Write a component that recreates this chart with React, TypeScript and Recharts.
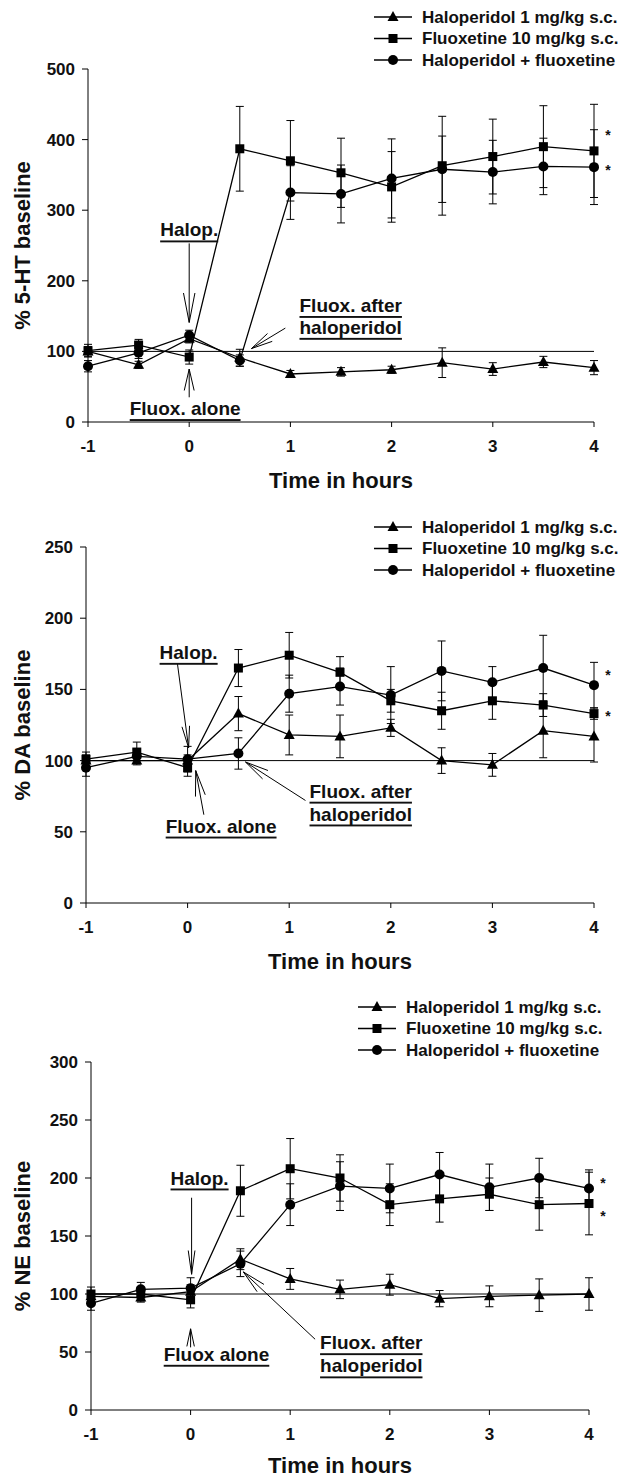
import React from 'react'
import {
  ErrorBar,
  Legend,
  Line,
  LineChart,
  ReferenceDot,
  ReferenceLine,
  XAxis,
  YAxis,
} from 'recharts'

const FONT = '"Liberation Sans", Arial, Helvetica, sans-serif'

const hours = [-1, -0.5, 0, 0.5, 1, 1.5, 2, 2.5, 3, 3.5, 4]
const hourTicks = [-1, 0, 1, 2, 3, 4]
const seriesNames = [
  'Haloperidol 1 mg/kg s.c.',
  'Fluoxetine 10 mg/kg s.c.',
  'Haloperidol + fluoxetine',
]

// 5-HT
const htHal = [100, 81, 118, 91, 68, 71, 74, 84, 75, 85, 77]
const htHalErr = [7, 5, 6, 12, 5, 6, 5, 21, 9, 8, 10]
const htFlx = [101, 109, 92, 387, 370, 353, 333, 363, 376, 390, 384]
const htFlxErr = [9, 8, 10, 60, 57, 49, 50, 70, 53, 58, 66]
const htComb = [79, 98, 123, 87, 325, 323, 345, 358, 354, 362, 361]
const htCombErr = [8, 8, 7, 8, 38, 41, 56, 47, 45, 40, 53]
const htTicks = [0, 100, 200, 300, 400, 500]

// DA
const daHal = [100, 100, 100, 133, 118, 117, 123, 100, 97, 121, 117]
const daHalErr = [4, 3, 4, 12, 14, 15, 6, 9, 8, 19, 18]
const daFlx = [101, 106, 95, 165, 174, 162, 142, 135, 142, 139, 133]
const daFlxErr = [5, 7, 6, 13, 16, 11, 8, 13, 13, 8, 4]
const daComb = [95, 103, 101, 105, 147, 152, 146, 163, 155, 165, 153]
const daCombErr = [6, 5, 9, 11, 13, 13, 20, 21, 11, 23, 16]
const daTicks = [0, 50, 100, 150, 200, 250]

// NE
const neHal = [98, 97, 102, 130, 113, 104, 108, 96, 98, 99, 100]
const neHalErr = [5, 4, 6, 9, 9, 8, 9, 7, 9, 14, 14]
const neFlx = [100, 100, 95, 189, 208, 200, 177, 182, 186, 177, 178]
const neFlxErr = [6, 6, 7, 22, 26, 20, 18, 20, 14, 22, 27]
const neComb = [92, 104, 105, 126, 177, 193, 191, 203, 192, 200, 191]
const neCombErr = [6, 6, 9, 11, 18, 21, 21, 19, 20, 17, 16]
const neTicks = [0, 50, 100, 150, 200, 250, 300]

function buildRows(
  hal: number[], halErr: number[],
  flx: number[], flxErr: number[],
  comb: number[], combErr: number[],
) {
  return hours.map((t, i) => ({
    t,
    hal: hal[i], halErr: halErr[i],
    flx: flx[i], flxErr: flxErr[i],
    comb: comb[i], combErr: combErr[i],
  }))
}

type Kind = 'tri' | 'sq' | 'dot'

function Marker({ kind, x, y }: { kind: Kind; x: number; y: number }) {
  if (kind === 'tri')
    return <path d={`M${x},${y - 6}L${x + 5.5},${y + 4}L${x - 5.5},${y + 4}Z`} fill="#000" />
  if (kind === 'sq') return <rect x={x - 4.5} y={y - 4.5} width={9} height={9} fill="#000" />
  return <circle cx={x} cy={y} r={5} fill="#000" />
}

const dotFor = (kind: Kind) => (p: any) =>
  <Marker key={`${kind}-${p.index}`} kind={kind} x={p.cx} y={p.cy} />

type Pt = [number, number]

// arrow in data coords; arms are worked out in pixels so they look the same everywhere
function arrowSegments(tip: Pt, tail: Pt, sx: number, sy: number, arm: number, spread: number) {
  const dx = (tail[0] - tip[0]) * sx
  const dy = -(tail[1] - tip[1]) * sy
  const ang = Math.atan2(dy, dx)
  const segs = [[{ x: tail[0], y: tail[1] }, { x: tip[0], y: tip[1] }]]
  for (const s of [-1, 1]) {
    const a = ang + (s * spread * Math.PI) / 180
    segs.push([
      { x: tip[0], y: tip[1] },
      { x: tip[0] + (Math.cos(a) * arm) / sx, y: tip[1] - (Math.sin(a) * arm) / sy },
    ])
  }
  return segs
}

type Note = { x: number; y: number; text: string; anchor: 'middle' | 'start' }
type Arrow = { tip: Pt; tail: Pt; arm: number; spread: number }

type Panel = {
  top: number
  height: number
  margin: { top: number; right: number; bottom: number; left: number }
  yWidth: number
  xHeight: number
  titleGap: number
  yMax: number
  yTicks: number[]
  yLabel: string
  rows: ReturnType<typeof buildRows>
  sx: number
  sy: number
  legend: { left: number; top: number }
  notes: Note[]
  arrows: Arrow[]
  stars: number[]
}

const panels: Panel[] = [
  {
    top: 0,
    height: 505,
    margin: { top: 69, right: 24, bottom: 8, left: 0 },
    yWidth: 88,
    xHeight: 75,
    titleGap: 58,
    yMax: 500,
    yTicks: htTicks,
    yLabel: '% 5-HT baseline',
    rows: buildRows(htHal, htHalErr, htFlx, htFlxErr, htComb, htCombErr),
    sx: 101.2,
    sy: 0.706,
    legend: { left: 370, top: 0 },
    notes: [
      { x: 0, y: 272, text: 'Halop.', anchor: 'middle' },
      { x: -0.04, y: 19, text: 'Fluox. alone', anchor: 'middle' },
      { x: 1.09, y: 165, text: 'Fluox. after', anchor: 'start' },
      { x: 1.09, y: 134, text: 'haloperidol', anchor: 'start' },
    ],
    arrows: [
      { tip: [0, 141], tail: [0, 253], arm: 30, spread: 11 },
      { tip: [0, 75], tail: [0, 35], arm: 22, spread: 13 },
      { tip: [0.615, 104], tail: [0.95, 133], arm: 22, spread: 12 },
    ],
    stars: [406, 357],
  },
  {
    top: 490,
    height: 485,
    margin: { top: 57, right: 24, bottom: 8, left: 0 },
    yWidth: 86,
    xHeight: 64,
    titleGap: 58,
    yMax: 250,
    yTicks: daTicks,
    yLabel: '% DA baseline',
    rows: buildRows(daHal, daHalErr, daFlx, daFlxErr, daComb, daCombErr),
    sx: 101.6,
    sy: 1.424,
    legend: { left: 370, top: 20 },
    notes: [
      { x: 0.01, y: 176, text: 'Halop.', anchor: 'middle' },
      { x: 0.33, y: 54, text: 'Fluox. alone', anchor: 'middle' },
      { x: 1.2, y: 78.5, text: 'Fluox. after', anchor: 'start' },
      { x: 1.2, y: 62.5, text: 'haloperidol', anchor: 'start' },
    ],
    arrows: [
      { tip: [0.01, 109], tail: [-0.1, 168], arm: 22, spread: 10 },
      { tip: [0.08, 93], tail: [0.16, 62], arm: 26, spread: 11 },
      { tip: [0.57, 99], tail: [1.16, 72], arm: 24, spread: 12 },
    ],
    stars: [160, 131],
  },
  {
    top: 975,
    height: 504,
    margin: { top: 87, right: 29, bottom: 8, left: 0 },
    yWidth: 91,
    xHeight: 61,
    titleGap: 55,
    yMax: 300,
    yTicks: neTicks,
    yLabel: '% NE baseline',
    rows: buildRows(neHal, neHalErr, neFlx, neFlxErr, neComb, neCombErr),
    sx: 99.4,
    sy: 1.16,
    legend: { left: 354, top: 15 },
    notes: [
      { x: 0.09, y: 200, text: 'Halop.', anchor: 'middle' },
      { x: 0.26, y: 48, text: 'Fluox alone', anchor: 'middle' },
      { x: 1.3, y: 58, text: 'Fluox. after', anchor: 'start' },
      { x: 1.3, y: 38, text: 'haloperidol', anchor: 'start' },
    ],
    arrows: [
      { tip: [0.01, 117], tail: [0.01, 183], arm: 24, spread: 8 },
      { tip: [0, 70], tail: [0, 54], arm: 18, spread: 12 },
      { tip: [0.53, 119], tail: [1.25, 61], arm: 24, spread: 12 },
    ],
    stars: [196, 167],
  },
]

const tickStyle = { fill: '#111', fontSize: 17, fontWeight: 700, fontFamily: FONT }
const kinds: Kind[] = ['tri', 'sq', 'dot']

function LegendBox() {
  return (
    <svg width={250} height={72} style={{ display: 'block' }}>
      {seriesNames.map((name, i) => {
        const y = 17 + i * 21.5
        return (
          <g key={name}>
            <line x1={4} x2={42} y1={y} y2={y} stroke="#000" strokeWidth={1.3} />
            <Marker kind={kinds[i]} x={23} y={y} />
            <text
              x={52}
              y={y}
              dominantBaseline="central"
              fontFamily={FONT}
              fontWeight={700}
              fontSize={17}
              fill="#111"
            >
              {name}
            </text>
          </g>
        )
      })}
    </svg>
  )
}

function PanelChart({ p }: { p: Panel }) {
  const keys = ['hal', 'flx', 'comb']
  return (
    <div style={{ position: 'absolute', left: 0, top: p.top }}>
      <LineChart width={618} height={p.height} data={p.rows} margin={p.margin}>
        <XAxis
          dataKey="t"
          type="number"
          domain={[-1, 4]}
          ticks={hourTicks}
          stroke="#000"
          tickSize={5}
          tickMargin={13}
          tick={tickStyle}
          height={p.xHeight}
          label={{
            content: (props: any) => {
              const vb = props.viewBox
              return (
                <text
                  x={vb.x + vb.width / 2}
                  y={vb.y + p.titleGap}
                  textAnchor="middle"
                  dominantBaseline="central"
                  fontFamily={FONT}
                  fontWeight={700}
                  fontSize={22}
                  fill="#111"
                >
                  Time in hours
                </text>
              )
            },
          }}
        />
        <YAxis
          type="number"
          domain={[0, p.yMax]}
          ticks={p.yTicks}
          width={p.yWidth}
          stroke="#000"
          tickSize={6}
          tickMargin={7}
          tick={tickStyle}
          label={{
            content: (props: any) => {
              const vb = props.viewBox
              const cx = vb.x + 22
              const cy = vb.y + vb.height / 2
              return (
                <text
                  x={cx}
                  y={cy}
                  transform={`rotate(-90 ${cx} ${cy})`}
                  textAnchor="middle"
                  dominantBaseline="central"
                  fontFamily={FONT}
                  fontWeight={700}
                  fontSize={22}
                  fill="#111"
                >
                  {p.yLabel}
                </text>
              )
            },
          }}
        />
        <ReferenceLine y={100} stroke="#000" strokeWidth={1} />
        {p.arrows.flatMap((a, i) =>
          arrowSegments(a.tip, a.tail, p.sx, p.sy, a.arm, a.spread).map((seg, j) => (
            <ReferenceLine
              key={`arr-${i}-${j}`}
              segment={seg}
              stroke="#000"
              strokeWidth={1}
              ifOverflow="visible"
            />
          )),
        )}
        {keys.map((k, i) => (
          <Line
            key={k}
            dataKey={k}
            stroke="#000"
            strokeWidth={1.3}
            dot={dotFor(kinds[i])}
            activeDot={false}
            isAnimationActive={false}
          >
            <ErrorBar
              dataKey={`${k}Err`}
              direction="y"
              width={4}
              stroke="#000"
              strokeWidth={1}
              isAnimationActive={false}
            />
          </Line>
        ))}
        {p.notes.map((n) => (
          <ReferenceDot
            key={n.text}
            x={n.x}
            y={n.y}
            r={0}
            ifOverflow="visible"
            shape={(sp: any) => (
              <text
                x={sp.cx}
                y={sp.cy}
                textAnchor={n.anchor}
                dominantBaseline="central"
                fontFamily={FONT}
                fontWeight={700}
                fontSize={19}
                fill="#111"
                style={{ textDecoration: 'underline' }}
              >
                {n.text}
              </text>
            )}
          />
        ))}
        {p.stars.map((v, i) => (
          <ReferenceDot
            key={`star-${i}`}
            x={4}
            y={v}
            r={0}
            ifOverflow="visible"
            shape={(sp: any) => (
              <text
                x={sp.cx + 14}
                y={sp.cy}
                textAnchor="middle"
                dominantBaseline="central"
                fontFamily={FONT}
                fontWeight={700}
                fontSize={14}
                fill="#111"
              >
                *
              </text>
            )}
          />
        ))}
        <Legend
          layout="vertical"
          align="center"
          verticalAlign="middle"
          content={() => <LegendBox />}
          wrapperStyle={{ left: p.legend.left, top: p.legend.top, width: 250, height: 72 }}
        />
      </LineChart>
    </div>
  )
}

export default function App() {
  return (
    <div style={{ position: 'absolute', left: 0, top: 0, width: 618, height: 1479, background: '#fff' }}>
      {panels.map((p) => (
        <PanelChart key={p.yLabel} p={p} />
      ))}
    </div>
  )
}
